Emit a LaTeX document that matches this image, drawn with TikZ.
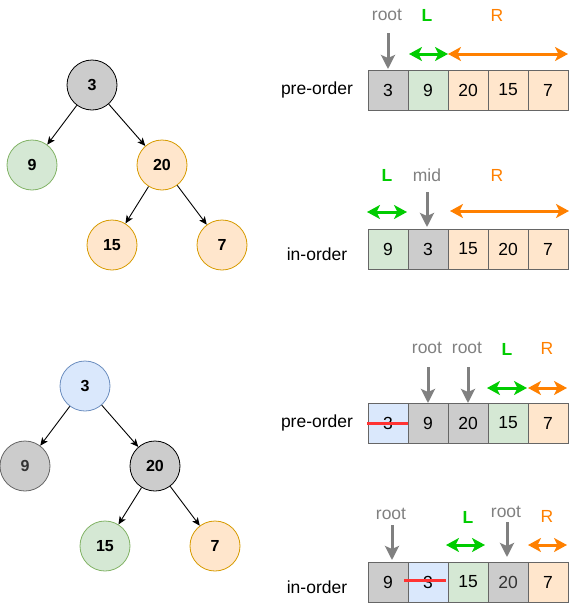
\documentclass[tikz,border=0pt]{standalone}
\usepackage{fontspec}
\setmainfont{Liberation Sans}
\usetikzlibrary{arrows.meta}
\definecolor{grayF}{HTML}{CCCCCC}
\definecolor{grayS}{HTML}{666666}
\definecolor{greenF}{HTML}{D5E8D4}
\definecolor{greenS}{HTML}{82B366}
\definecolor{orangeF}{HTML}{FFE6CC}
\definecolor{orangeS}{HTML}{D79B00}
\definecolor{blueF}{HTML}{DAE8FC}
\definecolor{blueS}{HTML}{6C8EBF}
\definecolor{lblgray}{HTML}{808080}
\definecolor{lblgreen}{HTML}{00CC00}
\definecolor{lblorange}{HTML}{FF8000}
\definecolor{strike}{HTML}{FF3333}
\begin{document}
\begin{tikzpicture}[x=1pt,y=-1pt,
  tnode/.style={circle,minimum size=50pt,inner sep=0pt,line width=0.8pt,font=\fontsize{16}{18}\selectfont\bfseries},
  tg/.style={tnode,fill=grayF,draw=black},
  tg2/.style={tnode,fill=grayF,draw=grayS,text=black!80},
  tgr/.style={tnode,fill=greenF,draw=greenS},
  tor/.style={tnode,fill=orangeF,draw=orangeS},
  tbl/.style={tnode,fill=blueF,draw=blueS},
  tedge/.style={-{Stealth[length=8pt,width=7pt,inset=2pt]},line width=0.9pt},
  cell/.style={rectangle,minimum width=40pt,minimum height=40pt,inner sep=0pt,draw=grayS,line width=0.8pt,font=\fontsize{17.5}{20}\selectfont},
  cg/.style={cell,fill=grayF},
  cgr/.style={cell,fill=greenF},
  cor/.style={cell,fill=orangeF},
  cbl/.style={cell,fill=blueF},
  rowlbl/.style={font=\fontsize{17.5}{20}\selectfont},
  glbl/.style={font=\fontsize{17.5}{20}\selectfont,text=lblgray},
  llbl/.style={font=\fontsize{17.5}{20}\selectfont\bfseries,text=lblgreen},
  rlbl/.style={font=\fontsize{17.5}{20}\selectfont,text=lblorange},
  garrow/.style={-{Stealth[length=14pt,width=14pt,inset=3pt]},line width=3pt,draw=lblgray},
  larrow/.style={{Stealth[length=13pt,width=14pt,inset=3.5pt]}-{Stealth[length=13pt,width=14pt,inset=3.5pt]},line width=3pt,draw=lblgreen},
  rarrow/.style={{Stealth[length=13pt,width=14pt,inset=3.5pt]}-{Stealth[length=13pt,width=14pt,inset=3.5pt]},line width=3pt,draw=lblorange},
  strk/.style={line width=3pt,draw=strike}
]
\useasboundingbox (0,0) rectangle (580,603);

% ---------- Tree 1 ----------
\node[tg]  (a3)  at (92,85)   {3};
\node[tgr] (a9)  at (32,165)  {9};
\node[tor] (a20) at (162,165) {20};
\node[tor] (a15) at (112,245) {15};
\node[tor] (a7)  at (222,245) {7};
\draw[tedge] (a3) -- (a9);
\draw[tedge] (a3) -- (a20);
\draw[tedge] (a20) -- (a15);
\draw[tedge] (a20) -- (a7);

% ---------- Tree 2 ----------
\node[tbl] (b3)  at (85,386)  {3};
\node[tg2] (b9)  at (25,466)  {9};
\node[tg]  (b20) at (155,466) {20};
\node[tgr] (b15) at (105,546) {15};
\node[tor] (b7)  at (215,546) {7};
\draw[tedge] (b3) -- (b9);
\draw[tedge] (b3) -- (b20);
\draw[tedge] (b20) -- (b15);
\draw[tedge] (b20) -- (b7);

% ---------- Row 1: pre-order ----------
\node[rowlbl] (p1l) at (317,90) {pre-order};
\node[cg]  (p1a) at (388,90) {3};
\node[cgr] (p1b) at (428,90) {9};
\node[cor] (p1c) at (468,90) {20};
\node[cor] (p1d) at (508,90) {15};
\node[cor] (p1e) at (548,90) {7};
\node[glbl] (p1root) at (387,15) {root};
\node[llbl] (p1L) at (427,15) {L};
\node[rlbl] (p1R) at (497,15) {R};
\coordinate (p1g1) at (388,33);
\coordinate (p1g2) at (388,69);
\coordinate (p1l1) at (409,54);
\coordinate (p1l2) at (448,54);
\coordinate (p1r1) at (448,54);
\coordinate (p1r2) at (568,54);
\draw[garrow] (p1g1) -- (p1g2);
\draw[larrow] (p1l1) -- (p1l2);
\draw[rarrow] (p1r1) -- (p1r2);

% ---------- Row 2: in-order ----------
\node[rowlbl] (i1l) at (317,254) {in-order};
\node[cgr] (i1a) at (388,249) {9};
\node[cg]  (i1b) at (428,249) {3};
\node[cor] (i1c) at (468,249) {15};
\node[cor] (i1d) at (508,249) {20};
\node[cor] (i1e) at (548,249) {7};
\node[llbl] (i1L) at (387,175) {L};
\node[glbl] (i1mid) at (427,175) {mid};
\node[rlbl] (i1R) at (497,175) {R};
\coordinate (i1g1) at (427,192);
\coordinate (i1g2) at (427,227);
\coordinate (i1l1) at (367,212);
\coordinate (i1l2) at (407,212);
\coordinate (i1r1) at (450,211);
\coordinate (i1r2) at (569,211);
\draw[garrow] (i1g1) -- (i1g2);
\draw[larrow] (i1l1) -- (i1l2);
\draw[rarrow] (i1r1) -- (i1r2);

% ---------- Row 3: pre-order ----------
\node[rowlbl] (p2l) at (317,423) {pre-order};
\node[cbl] (p2a) at (388,423) {3};
\node[cg]  (p2b) at (428,423) {9};
\node[cg]  (p2c) at (468,423) {20};
\node[cgr] (p2d) at (508,423) {15};
\node[cor] (p2e) at (548,423) {7};
\node[glbl] (p2root1) at (427,348) {root};
\node[glbl] (p2root2) at (467,348) {root};
\node[llbl] (p2L) at (507,349) {L};
\node[rlbl] (p2R) at (547,348) {R};
\coordinate (p2g1) at (428,367);
\coordinate (p2g2) at (428,403);
\coordinate (p2h1) at (468,367);
\coordinate (p2h2) at (468,403);
\coordinate (p2l1) at (487,388);
\coordinate (p2l2) at (527,388);
\coordinate (p2r1) at (528,388);
\coordinate (p2r2) at (567,388);
\draw[garrow] (p2g1) -- (p2g2);
\draw[garrow] (p2h1) -- (p2h2);
\draw[larrow] (p2l1) -- (p2l2);
\draw[rarrow] (p2r1) -- (p2r2);
\coordinate (p2s1) at (367,423);
\coordinate (p2s2) at (408,423);
\draw[strk] (p2s1) -- (p2s2);

% ---------- Row 4: in-order ----------
\node[rowlbl] (i2l) at (317,587) {in-order};
\node[cg]  (i2a) at (388,582) {9};
\node[cbl] (i2b) at (428,582) {3};
\node[cgr] (i2c) at (468,582) {15};
\node[cg,text=black!80]  (i2d) at (508,582) {20};
\node[cor] (i2e) at (548,582) {7};
\node[glbl] (i2root1) at (391,514) {root};
\node[llbl] (i2L) at (468,517) {L};
\node[glbl] (i2root2) at (506,512) {root};
\node[rlbl] (i2R) at (547,516) {R};
\coordinate (i2g1) at (392,525);
\coordinate (i2g2) at (392,560);
\coordinate (i2h1) at (507,522);
\coordinate (i2h2) at (507,557);
\coordinate (i2l1) at (446,545);
\coordinate (i2l2) at (485,545);
\coordinate (i2r1) at (528,545);
\coordinate (i2r2) at (567,545);
\draw[garrow] (i2g1) -- (i2g2);
\draw[garrow] (i2h1) -- (i2h2);
\draw[larrow] (i2l1) -- (i2l2);
\draw[rarrow] (i2r1) -- (i2r2);
\coordinate (i2s1) at (404,580);
\coordinate (i2s2) at (446,580);
\draw[strk] (i2s1) -- (i2s2);
\end{tikzpicture}
\end{document}
